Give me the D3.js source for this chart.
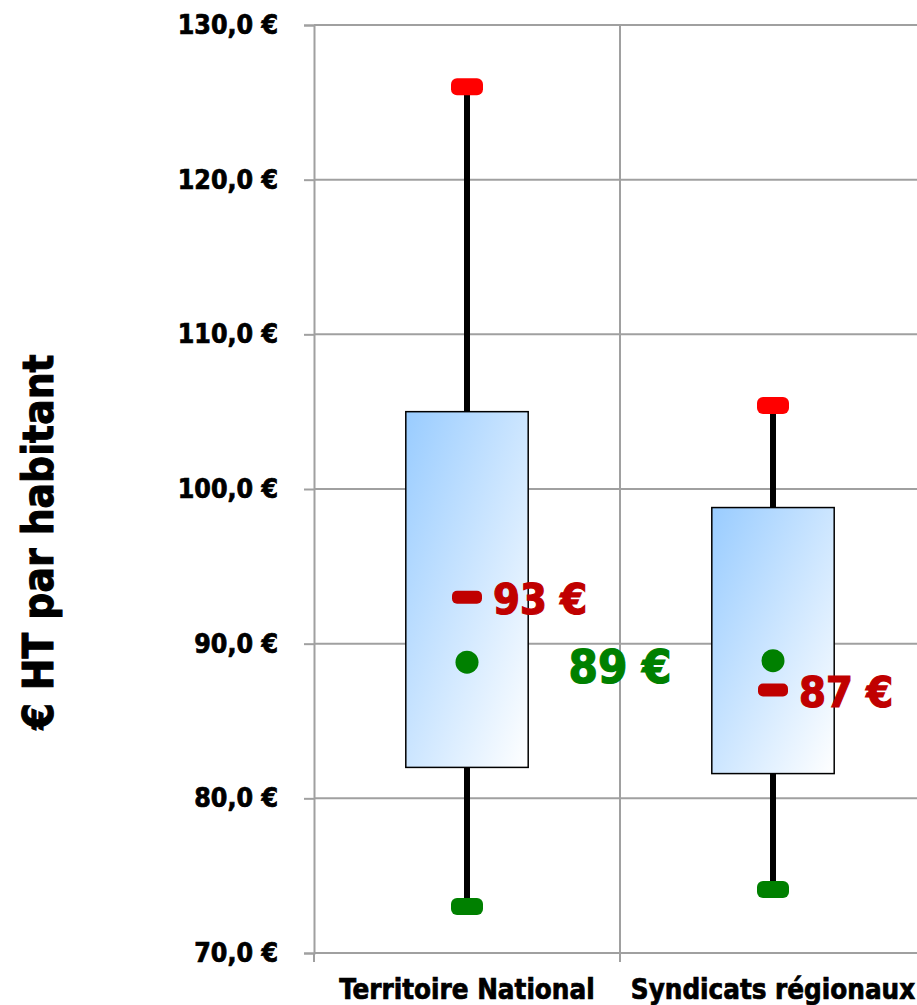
<!DOCTYPE html>
<html>
<head>
<meta charset="utf-8">
<script src="https://cdn.jsdelivr.net/npm/d3@7"></script>
<style>
  body { margin: 0; background: #fff; }
  text { font-family: "DejaVu Sans Condensed", "DejaVu Sans", sans-serif; font-stretch: condensed; font-weight: bold; }
</style>
</head>
<body>
<div id="chart"></div>
<script>
// values
var categories = ["Territoire National", "Syndicats régionaux"];
var minVals = [73.0, 74.1];
var q1Vals = [82.0, 81.6];
var medianVals = [93.0, 87.0];
var q3Vals = [105.0, 98.8];
var maxVals = [126.0, 105.4];
var meanVals = [88.8, 88.9];
var medianLabels = ["93 €", "87 €"];
var meanLabel = "89 €";
var yTicks = [70, 80, 90, 100, 110, 120, 130];

var drawBoxPlot = function(id) {
  var width = 917, height = 1005;
  var margin = {top: 25, right: -9, bottom: 52, left: 314};

  var svg = d3.select(id).append("svg")
      .attr("width", width)
      .attr("height", height);

  var x = d3.scaleBand()
      .domain(categories)
      .range([margin.left, width - margin.right])
      .padding(0);

  var y = d3.scaleLinear()
      .domain([70, 130])
      .range([height - margin.bottom, margin.top]);

  var defs = svg.append("defs");
  var grad = defs.append("linearGradient")
      .attr("id", "boxFill")
      .attr("x1", "0%").attr("y1", "0%")
      .attr("x2", "100%").attr("y2", "100%");
  grad.append("stop").attr("offset", "0%").attr("stop-color", "#99ccff");
  grad.append("stop").attr("offset", "100%").attr("stop-color", "#ffffff");

  // grid
  svg.append("g").selectAll("line.h")
      .data(yTicks.slice(1))
    .enter().append("line")
      .attr("x1", margin.left).attr("x2", width)
      .attr("y1", function(d) { return y(d); })
      .attr("y2", function(d) { return y(d); })
      .attr("stroke", "#a0a0a0").attr("stroke-width", 2);

  svg.append("g").selectAll("line.v")
      .data(categories.slice(1))
    .enter().append("line")
      .attr("x1", function(d) { return x(d); })
      .attr("x2", function(d) { return x(d); })
      .attr("y1", y(130)).attr("y2", y(70))
      .attr("stroke", "#a0a0a0").attr("stroke-width", 2);

  // axes
  var yAxis = d3.axisLeft(y)
      .tickValues(yTicks)
      .tickSize(10)
      .tickPadding(26)
      .tickFormat(function(d) { return d3.format(".1f")(d).replace(".", ",") + " €"; });

  var gy = svg.append("g")
      .attr("transform", "translate(" + margin.left + ",0)")
      .call(yAxis);
  gy.select(".domain").attr("stroke", "#a0a0a0").attr("stroke-width", 2);
  gy.selectAll(".tick line").attr("stroke", "#a0a0a0").attr("stroke-width", 2);
  gy.selectAll(".tick text")
      .attr("font-size", 26.5)
      .attr("fill", "#000")
      .attr("stroke", "#000").attr("stroke-width", 0.7)
      .attr("font-family", null);

  var xAxis = d3.axisBottom(x)
      .tickSize(0)
      .tickPadding(26);

  var gx = svg.append("g")
      .attr("transform", "translate(0," + y(70) + ")")
      .call(xAxis);
  gx.select(".domain").remove();
  gx.selectAll(".tick text")
      .attr("font-size", 27.5)
      .attr("fill", "#000")
      .attr("stroke", "#000").attr("stroke-width", 0.7)
      .attr("font-family", null);
  gx.append("line")
      .attr("x1", margin.left).attr("x2", width)
      .attr("stroke", "#a0a0a0").attr("stroke-width", 2);
  gx.selectAll("line.xt")
      .data(categories)
    .enter().append("line")
      .attr("class", "xt")
      .attr("x1", function(d) { return x(d); })
      .attr("x2", function(d) { return x(d); })
      .attr("y1", 0).attr("y2", 9)
      .attr("stroke", "#a0a0a0").attr("stroke-width", 2);

  // y title
  svg.append("text")
      .attr("transform", "translate(53," + 542 + ") rotate(-90)")
      .attr("text-anchor", "middle")
      .attr("font-size", 42)
      .attr("stroke", "#000").attr("stroke-width", 1)
      .text("€ HT par habitant");

  // boxes
  var boxW = x.bandwidth() * 0.4;
  var cx = function(i) { return x(categories[i]) + x.bandwidth() / 2; };

  var g = svg.append("g").selectAll("g.box")
      .data(categories)
    .enter().append("g")
      .attr("class", "box");

  g.append("line")
      .attr("x1", function(d, i) { return cx(i); })
      .attr("x2", function(d, i) { return cx(i); })
      .attr("y1", function(d, i) { return y(maxVals[i]); })
      .attr("y2", function(d, i) { return y(minVals[i]); })
      .attr("stroke", "#000").attr("stroke-width", 6);

  g.append("rect")
      .attr("x", function(d, i) { return cx(i) - boxW / 2; })
      .attr("width", boxW)
      .attr("y", function(d, i) { return y(q3Vals[i]); })
      .attr("height", function(d, i) { return y(q1Vals[i]) - y(q3Vals[i]); })
      .attr("fill", "url(#boxFill)")
      .attr("stroke", "#000").attr("stroke-width", 1.5);

  // caps
  g.append("rect")
      .attr("x", function(d, i) { return cx(i) - 16; })
      .attr("y", function(d, i) { return y(maxVals[i]) - 8.5; })
      .attr("width", 32).attr("height", 17).attr("rx", 6)
      .attr("fill", "#ff0000");

  g.append("rect")
      .attr("x", function(d, i) { return cx(i) - 16; })
      .attr("y", function(d, i) { return y(minVals[i]) - 8.5; })
      .attr("width", 32).attr("height", 17).attr("rx", 6)
      .attr("fill", "#008000");

  // median dash
  g.append("rect")
      .attr("x", function(d, i) { return cx(i) - 15; })
      .attr("y", function(d, i) { return y(medianVals[i]) - 6.5; })
      .attr("width", 30).attr("height", 13).attr("rx", 5)
      .attr("fill", "#c00000");

  // mean dot
  g.append("circle")
      .attr("cx", function(d, i) { return cx(i); })
      .attr("cy", function(d, i) { return y(meanVals[i]); })
      .attr("r", 11.5)
      .attr("fill", "#008000");

  g.append("text")
      .attr("x", function(d, i) { return cx(i) + 26; })
      .attr("y", function(d, i) { return y(medianVals[i]) + 17; })
      .attr("font-size", 43)
      .attr("fill", "#c00000")
      .attr("stroke", "#c00000").attr("stroke-width", 1.2)
      .text(function(d, i) { return medianLabels[i]; });

  svg.append("text")
      .attr("x", x(categories[1]))
      .attr("y", y(d3.mean(meanVals)) + 22)
      .attr("text-anchor", "middle")
      .attr("font-size", 47)
      .attr("fill", "#008000")
      .attr("stroke", "#008000").attr("stroke-width", 1.2)
      .text(meanLabel);
};

drawBoxPlot("#chart");
</script>
</body>
</html>
